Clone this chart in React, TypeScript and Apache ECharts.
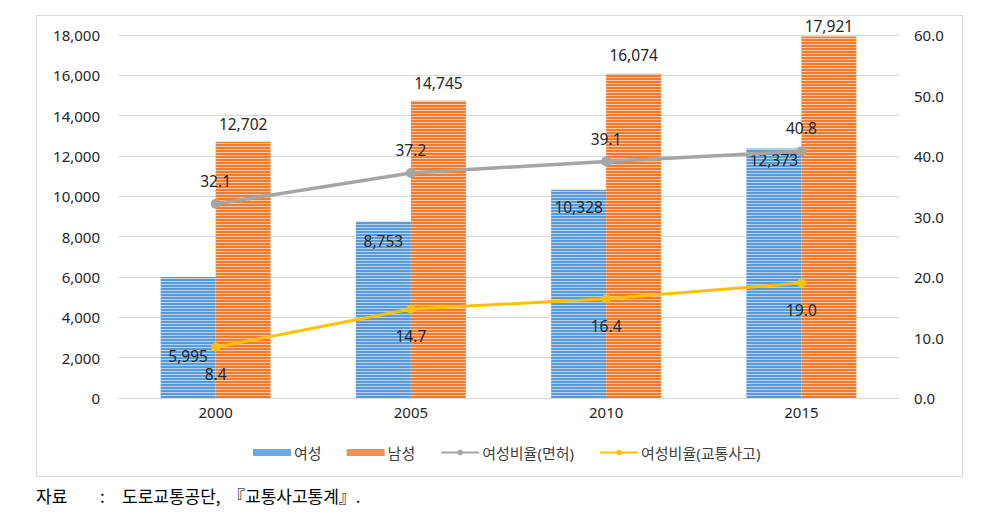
import React, { useEffect, useRef } from "react";
import * as echarts from "echarts";

const categories = ["2000", "2005", "2010", "2015"];
const female = [5995, 8753, 10328, 12373];
const male = [12702, 14745, 16074, 17921];
const ratioLicense = [32.1, 37.2, 39.1, 40.8];
const ratioAccident = [8.4, 14.7, 16.4, 19.0];
const leftTicks = { min: 0, max: 18000, interval: 2000 };
const rightTicks = { min: 0, max: 60, interval: 10 };

const femaleLabelOffset = [66, 7, 5, -1];
const maleLabelOffset = [-5, -5, -6, 2];

function stripes(dark: string, light: string) {
  const y0 = 30;
  const y1 = 400;
  const period = 3;
  const total = y1 - y0;
  const stops: { offset: number; color: string }[] = [];
  for (let y = 0; y < total; y += period) {
    const a = y / total;
    const b = (y + 1.6) / total;
    const c = Math.min((y + period) / total, 1);
    stops.push({ offset: a, color: dark });
    stops.push({ offset: b, color: dark });
    stops.push({ offset: b, color: light });
    stops.push({ offset: c, color: light });
  }
  return { type: "linear", x: 0, y: y0, x2: 0, y2: y1, global: true, colorStops: stops };
}

const FONT = "'Noto Sans', 'Noto Sans CJK KR', sans-serif";
const SRC_FONT = "17px 'Noto Sans CJK KR', serif";

export default function App() {
  const ref = useRef<HTMLDivElement>(null);
  useEffect(() => {
    if (!ref.current) return;
    const chart = echarts.init(ref.current, null, { renderer: "svg" });
    const labelStyle = { fontFamily: FONT, fontSize: 15.5, color: "#262626" };
    chart.setOption({
      animation: false,
      backgroundColor: "#fff",
      textStyle: { fontFamily: FONT },
      grid: { left: 118, right: 86, top: 35, bottom: 123 },
      graphic: [
        {
          type: "rect",
          shape: { x: 36.5, y: 15.5, width: 926, height: 461 },
          style: { fill: "none", stroke: "#d9d9d9", lineWidth: 1 },
          silent: true,
        },
        { type: "text", x: 36, y: 487, style: { text: "자료", font: SRC_FONT, fill: "#000" } },
        { type: "text", x: 100, y: 487, style: { text: ":", font: SRC_FONT, fill: "#000" } },
        { type: "text", x: 122, y: 487, style: { text: "도로교통공단,", font: SRC_FONT, fill: "#000" } },
        { type: "text", x: 228, y: 487, style: { text: "『교통사고통계』.", font: SRC_FONT, fill: "#000" } },
      ],
      legend: {
        top: 440,
        left: 248,
        itemGap: 25,
        itemWidth: 38,
        itemHeight: 7,
        textStyle: { fontFamily: FONT, fontSize: 15, color: "#404040", padding: [0, 0, 0, -2] },
        data: [
          { name: "여성", icon: "rect", itemStyle: { color: "#6FA8DC" } },
          { name: "남성", icon: "rect", itemStyle: { color: "#F0905A" } },
          { name: "여성비율(면허)" },
          { name: "여성비율(교통사고)" },
        ],
      },
      xAxis: {
        type: "category",
        data: categories,
        axisLine: { lineStyle: { color: "#d9d9d9" } },
        axisTick: { show: false },
        axisLabel: { fontFamily: FONT, fontSize: 15, color: "#262626", margin: 6 },
      },
      yAxis: [
        {
          type: "value",
          ...leftTicks,
          axisLine: { show: false },
          axisTick: { show: false },
          splitLine: { lineStyle: { color: "#d9d9d9" } },
          axisLabel: {
            fontFamily: FONT,
            fontSize: 15,
            color: "#262626",
            margin: 18,
            formatter: (v: number) => v.toLocaleString("en-US"),
          },
        },
        {
          type: "value",
          ...rightTicks,
          axisLine: { show: false },
          axisTick: { show: false },
          splitLine: { show: false },
          axisLabel: {
            fontFamily: FONT,
            fontSize: 15,
            color: "#262626",
            margin: 15,
            formatter: (v: number) => v.toFixed(1),
          },
        },
      ],
      series: [
        {
          name: "여성",
          type: "bar",
          barWidth: 55,
          barGap: "0%",
          itemStyle: { color: stripes("#5B9BD5", "#B4D3EF") },
          data: female.map((v, i) => ({
            value: v,
            label: { offset: [0, femaleLabelOffset[i]] },
          })),
          label: {
            show: true,
            position: "insideTop",
            ...labelStyle,
            formatter: (p: any) => p.value.toLocaleString("en-US"),
          },
        },
        {
          name: "남성",
          type: "bar",
          barWidth: 55,
          barGap: "0%",
          itemStyle: { color: stripes("#ED7D31", "#F7C4A2") },
          data: male.map((v, i) => ({
            value: v,
            label: { offset: [0, maleLabelOffset[i]] },
          })),
          label: {
            show: true,
            position: "top",
            ...labelStyle,
            formatter: (p: any) => p.value.toLocaleString("en-US"),
          },
        },
        {
          name: "여성비율(면허)",
          type: "line",
          yAxisIndex: 1,
          data: ratioLicense,
          symbol: "circle",
          symbolSize: 10,
          lineStyle: { color: "#A5A5A5", width: 3.5 },
          itemStyle: { color: "#A5A5A5" },
          label: {
            show: true,
            position: "top",
            offset: [0, -5],
            ...labelStyle,
            formatter: (p: any) => p.value.toFixed(1),
          },
        },
        {
          name: "여성비율(교통사고)",
          type: "line",
          yAxisIndex: 1,
          data: ratioAccident,
          symbol: "circle",
          symbolSize: 9,
          lineStyle: { color: "#FFC000", width: 3 },
          itemStyle: { color: "#FFC000" },
          label: {
            show: true,
            position: "bottom",
            offset: [0, 10],
            ...labelStyle,
            formatter: (p: any) => p.value.toFixed(1),
          },
        },
      ],
    });
    return () => chart.dispose();
  }, []);
  return (
    <div
      ref={ref}
      style={{ position: "fixed", left: 0, top: 0, width: 985, height: 521 }}
    />
  );
}
